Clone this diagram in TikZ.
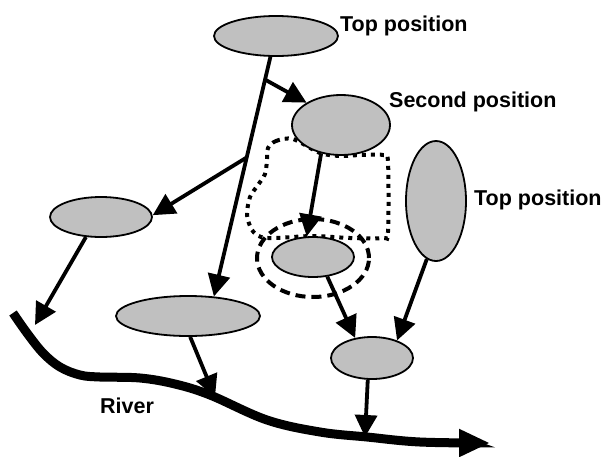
\documentclass[tikz,border=0pt]{standalone}
\usepackage{fontspec}
\setmainfont{Liberation Sans}
\usetikzlibrary{arrows.meta,shapes.geometric}
\definecolor{blobgray}{RGB}{192,192,192}
\tikzset{
>={Triangle[length=22pt,width=22pt]},
  blob/.style={
    ellipse,
    fill=blobgray,
    draw=black, line width=1.8pt,
    inner sep=0pt},
  halo/.style={
    ellipse,
    draw=black, line width=4pt,
    dash pattern=on 10pt off 6pt,
    inner sep=0pt},
  area/.style={draw=black, line width=4pt, dash pattern=on 4pt off 5pt},
  link/.style={draw, line width=3.8pt, ->},
  river/.style={draw, line width=9pt, -{Triangle[length=31pt,width=26pt]}},
  tag/.style={font=\fontsize{21.5}{25}\selectfont\bfseries, inner sep=0pt, anchor=base west},
}

\begin{document}
\begin{tikzpicture}[x=1pt,y=-1pt]
  \useasboundingbox (0,0) rectangle (608,456);
  % dotted area round the lower step
  \draw[area] plot[smooth cycle, tension=0.5] coordinates {
    (268,148) (276,141) (293,139) (320,153) (341,156) (360,155)
    (383,155) (388,162) (388,232) (383,238) (350,238) (313,236)
    (276,238) (261,237) (252,230) (247,215) (250,197) (258,185)
    (265,174) (267,160)};
  \node[halo, minimum width=112pt, minimum height=78pt] (ring) at (313,258) {};
  % the steps
  \node[blob, minimum width=124pt, minimum height=40pt] (top) at (276,36) {};
  \node[blob, minimum width=98pt, minimum height=60pt] (second) at (341,125) {};
  \node[blob, minimum width=102pt, minimum height=40pt] (left) at (101,217) {};
  \node[blob, minimum width=144pt, minimum height=40pt] (middle) at (188,316) {};
  \node[blob, minimum width=82pt, minimum height=40pt] (inner) at (313,257) {};
  \node[blob, minimum width=60pt, minimum height=120pt] (tall) at (436,201) {};
  \node[blob, minimum width=82pt, minimum height=42pt] (bottom) at (372,358) {};
  % labels
  \node[tag] (toplabel) at (340,31) {Top position};
  \node[tag] (secondlabel) at (389,107) {Second position};
  \node[tag] (talllabel) at (474,205) {Top position};
  \node[tag] (riverlabel) at (100,413) {River};
  % river
  \draw[river] plot[smooth, tension=0.6] coordinates {
    (13,313) (27,333) (43,353) (60,367) (80,375) (100,377) (140,378)
    (175,384) (210,395) (267,420) (320,432) (367,437) (420,442) (490,443)};
  \coordinate (mouth1) at (35,325);
  \coordinate (mouth2) at (215,397);
  \coordinate (mouth3) at (365,437);
  % flows
  \path (top.255) -- coordinate[pos=0.095] (fork1)
    coordinate[pos=0.42] (fork2) (middle.37);
  \draw[link] (top.255) -- (middle.37);
  \draw[link] (fork1) -- (second.147);
  \draw[link] (fork2) -- (left.2);
  \draw[link] (left.233) -- (mouth1);
  \draw[link] (middle.276) -- (mouth2);
  \draw[link] (second.235) -- (inner.107);
  \draw[link] (inner.306) -- (bottom.130);
  \draw[link] (tall.261) -- (bottom.35);
  \draw[link] (bottom.259) -- (mouth3);
\end{tikzpicture}
\end{document}
